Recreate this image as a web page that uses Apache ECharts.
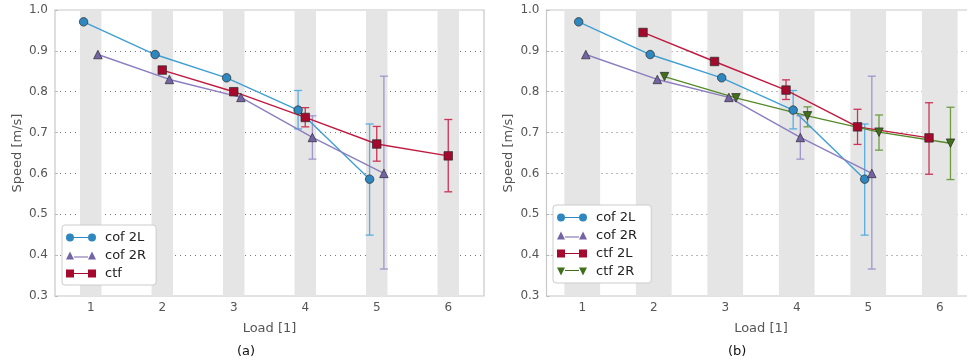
<!DOCTYPE html>
<html>
<head>
<meta charset="utf-8">
<script src="https://cdn.jsdelivr.net/npm/echarts@6/dist/echarts.min.js"></script>
<style>
  html, body { margin: 0; padding: 0; background: #fff; }
  #container { width: 967px; height: 363px; }
</style>
</head>
<body>
<div id="container"></div>
<script>
// ---- data ----
var loads = [1, 2, 3, 4, 5, 6];
var yTicks = [0.3, 0.4, 0.5, 0.6, 0.7, 0.8, 0.9, 1.0];

// cof series at loads 1..5
var cof2L = [0.971, 0.891, 0.834, 0.755, 0.586];
var cof2LLow = [null, null, null, 0.709, 0.449];
var cof2LHigh = [null, null, null, 0.803, 0.721];
var cof2R = [0.891, 0.830, 0.786, 0.688, 0.600];
var cof2RLow = [null, null, null, 0.635, 0.366];
var cof2RHigh = [null, null, null, 0.741, 0.838];

// ctf series at loads 2..6
var ctfA = [0.853, 0.800, 0.737, 0.672, 0.643];
var ctfALow = [null, null, 0.714, 0.630, 0.555];
var ctfAHigh = [null, null, 0.761, 0.715, 0.732];
var ctf2L = [0.945, 0.874, 0.804, 0.714, 0.687];
var ctf2LLow = [null, null, 0.781, 0.671, 0.598];
var ctf2LHigh = [null, null, 0.829, 0.757, 0.773];
var ctf2R = [0.837, 0.785, 0.741, 0.701, 0.674];
var ctf2RLow = [null, null, 0.714, 0.657, 0.585];
var ctf2RHigh = [null, null, 0.763, 0.743, 0.762];

// horizontal dodge of each series around the integer load
var offA = { cof2L: -0.1, cof2R: 0.1, ctf: 0 };
var offB = { cof2L: -0.05, cof2R: 0.05, ctf2L: -0.15, ctf2R: 0.15 };

var cofLoads = loads.slice(0, 5);
var ctfLoads = loads.slice(1, 6);

var C = {
  blue: { mark: '#2f87bf', line: '#3f9fd3', err: '#5aaee0' },
  purple: { mark: '#7563a8', line: '#8b7dc0', err: '#a195cc' },
  red: { mark: '#a6092e', line: '#c01a40', err: '#cc3356' },
  green: { mark: '#41701b', line: '#558a2a', err: '#6e9c45' }
};

var ICON = {
  circle: 'path://M0,4A4,4,0,1,1,8,4A4,4,0,1,1,0,4Z M8,3.5H22V4.5H8Z M22,4A4,4,0,1,1,30,4A4,4,0,1,1,22,4Z',
  triangle: 'path://M0,8L4,0L8,8Z M8,5H22V6H8Z M22,8L26,0L30,8Z',
  rect: 'path://M0,0H8V8H0Z M8,3.5H22V4.5H8Z M22,0H30V8H22Z',
  down: 'path://M0,0L4,8L8,0Z M8,2.5H22V3.5H8Z M22,0L26,8L30,0Z'
};

function pts(xs, ys, off) {
  var out = [];
  for (var i = 0; i < xs.length; i++) out.push([xs[i] + off, ys[i]]);
  return out;
}
function errs(xs, lo, hi, off) {
  var out = [];
  for (var i = 0; i < xs.length; i++) {
    if (lo[i] != null) out.push([xs[i] + off, lo[i], hi[i]]);
  }
  return out;
}

function lineSeries(name, gi, data, col, symbol, size) {
  return {
    name: name, type: 'line', xAxisIndex: gi, yAxisIndex: gi,
    data: data, symbol: symbol, symbolSize: size,
    lineStyle: { color: col.line, width: 1.4 },
    itemStyle: { color: col.mark, borderColor: '#2a2a2a', borderWidth: 0.7 },
    z: 5, animation: false
  };
}
function errSeries(gi, data, col) {
  return {
    type: 'custom', xAxisIndex: gi, yAxisIndex: gi, data: data, z: 4,
    silent: true, animation: false,
    renderItem: function (params, api) {
      var top = api.coord([api.value(0), api.value(2)]);
      var bot = api.coord([api.value(0), api.value(1)]);
      var st = { stroke: col.err, lineWidth: 1.3 };
      return {
        type: 'group',
        children: [
          { type: 'line', shape: { x1: top[0], y1: top[1], x2: bot[0], y2: bot[1] }, style: st },
          { type: 'line', shape: { x1: top[0] - 4, y1: top[1], x2: top[0] + 4, y2: top[1] }, style: st },
          { type: 'line', shape: { x1: bot[0] - 4, y1: bot[1], x2: bot[0] + 4, y2: bot[1] }, style: st }
        ]
      };
    }
  };
}
function bandSeries(gi, half) {
  return {
    type: 'custom', xAxisIndex: gi, yAxisIndex: gi, data: loads, z: 0,
    silent: true, animation: false,
    renderItem: function (params, api) {
      var x = api.value(0);
      var p1 = api.coord([x - half, yTicks[yTicks.length - 1]]);
      var p2 = api.coord([x + half, yTicks[0]]);
      return { type: 'rect', shape: { x: p1[0], y: p1[1], width: p2[0] - p1[0], height: p2[1] - p1[1] }, style: { fill: '#e5e5e5' } };
    }
  };
}

function xAxis(gi) {
  return {
    type: 'value', gridIndex: gi, min: 0.5, max: 6.5,
    name: 'Load [1]', nameLocation: 'middle', nameGap: 26,
    nameTextStyle: { color: '#555', fontSize: 13, fontFamily: 'DejaVu Sans' },
    axisLine: { show: false }, axisTick: { show: false }, splitLine: { show: false },
    axisLabel: { customValues: loads, color: '#555', fontSize: 12, margin: 6, fontFamily: 'DejaVu Sans' }
  };
}
function yAxis(gi) {
  return {
    type: 'value', gridIndex: gi, min: yTicks[0], max: yTicks[yTicks.length - 1], interval: 0.1,
    name: 'Speed [m/s]', nameLocation: 'middle', nameGap: 31,
    nameTextStyle: { color: '#555', fontSize: 13, fontFamily: 'DejaVu Sans' },
    axisLine: { show: false },
    axisTick: { show: true, inside: true, length: 3, lineStyle: { color: '#bbb' } },
    splitLine: { show: true, showMinLine: false, showMaxLine: false, lineStyle: { color: '#777', type: [1, 4], width: 1 } },
    axisLabel: { color: '#555', fontSize: 12, margin: 7, fontFamily: 'DejaVu Sans', formatter: function (v) { return v.toFixed(1); } }
  };
}
function legend(gi, names, left, top) {
  return {
    orient: 'vertical', left: left, top: top, data: names,
    backgroundColor: '#fff', borderColor: '#ccc', borderWidth: 1, borderRadius: 3,
    padding: [6, 10, 5, 4], itemGap: 5, itemWidth: 30, itemHeight: 8,
    itemStyle: { borderWidth: 0 },
    textStyle: { color: '#222', fontSize: 13, fontFamily: 'DejaVu Sans', padding: [0, 0, 0, 4] },
    selectedMode: false
  };
}

var myChart = echarts.init(document.getElementById('container'));
var option = {
  backgroundColor: '#fff',
  textStyle: { fontFamily: 'DejaVu Sans' },
  grid: [
    { left: 55, top: 10, width: 429, height: 286, outerBoundsMode: 'none', show: true, borderColor: '#c8c8c8', borderWidth: 1.2, backgroundColor: '#fff' },
    { left: 546.5, top: 10, width: 429, height: 286, outerBoundsMode: 'none', show: true, borderColor: '#c8c8c8', borderWidth: 1.2, backgroundColor: '#fff' }
  ],
  xAxis: [xAxis(0), xAxis(1)],
  yAxis: [yAxis(0), yAxis(1)],
  title: [
    { text: '(a)', left: 237, top: 345, textStyle: { fontSize: 13, fontWeight: 'normal', color: '#111', fontFamily: 'DejaVu Sans' }, padding: 0 },
    { text: '(b)', left: 728, top: 345, textStyle: { fontSize: 13, fontWeight: 'normal', color: '#111', fontFamily: 'DejaVu Sans' }, padding: 0 }
  ],
  legend: [
    legend(0, [
      { name: 'cof 2L', icon: ICON.circle },
      { name: 'cof 2R', icon: ICON.triangle },
      { name: 'ctf', icon: ICON.rect }
    ], 62, 225),
    legend(1, [
      { name: 'cof 2L ', icon: ICON.circle },
      { name: 'cof 2R ', icon: ICON.triangle },
      { name: 'ctf 2L', icon: ICON.rect },
      { name: 'ctf 2R', icon: ICON.down }
    ], 553, 205)
  ],
  series: [
    bandSeries(0, 0.15),
    bandSeries(1, 0.25),

    errSeries(0, errs(cofLoads, cof2LLow, cof2LHigh, offA.cof2L), C.blue),
    errSeries(0, errs(cofLoads, cof2RLow, cof2RHigh, offA.cof2R), C.purple),
    errSeries(0, errs(ctfLoads, ctfALow, ctfAHigh, offA.ctf), C.red),
    lineSeries('cof 2L', 0, pts(cofLoads, cof2L, offA.cof2L), C.blue, 'circle', 8.5),
    lineSeries('cof 2R', 0, pts(cofLoads, cof2R, offA.cof2R), C.purple, 'triangle', 8.5),
    lineSeries('ctf', 0, pts(ctfLoads, ctfA, offA.ctf), C.red, 'rect', 8.5),

    errSeries(1, errs(cofLoads, cof2LLow, cof2LHigh, offB.cof2L), C.blue),
    errSeries(1, errs(cofLoads, cof2RLow, cof2RHigh, offB.cof2R), C.purple),
    errSeries(1, errs(ctfLoads, ctf2LLow, ctf2LHigh, offB.ctf2L), C.red),
    errSeries(1, errs(ctfLoads, ctf2RLow, ctf2RHigh, offB.ctf2R), C.green),
    lineSeries('cof 2L ', 1, pts(cofLoads, cof2L, offB.cof2L), C.blue, 'circle', 8.5),
    lineSeries('cof 2R ', 1, pts(cofLoads, cof2R, offB.cof2R), C.purple, 'triangle', 8.5),
    lineSeries('ctf 2L', 1, pts(ctfLoads, ctf2L, offB.ctf2L), C.red, 'rect', 8.5),
    lineSeries('ctf 2R', 1, pts(ctfLoads, ctf2R, offB.ctf2R), C.green, 'path://M0,0L10,0L5,10Z', 8.5)
  ]
};
myChart.setOption(option);
</script>
</body>
</html>
